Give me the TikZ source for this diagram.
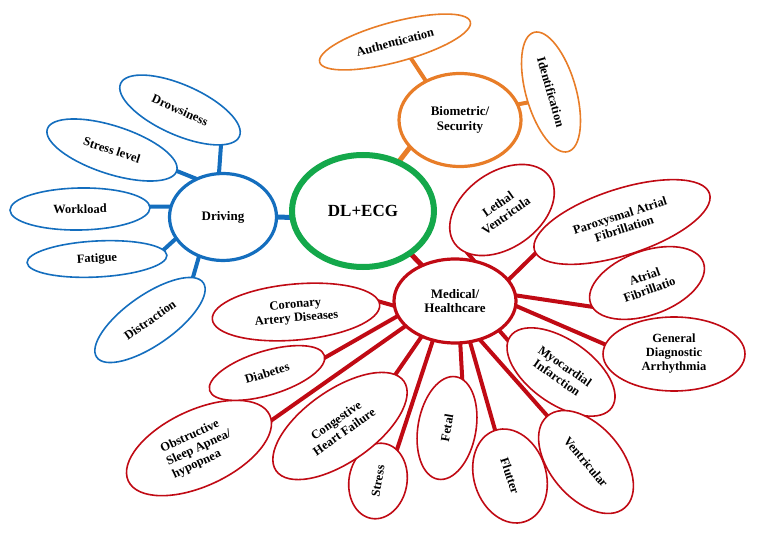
\documentclass[tikz,border=0pt]{standalone}
\usepackage{fontspec}
\setmainfont{Liberation Serif}
\usetikzlibrary{shapes.geometric}
\pgfdeclarelayer{background}
\pgfsetlayers{background,main}
\definecolor{cblue}{RGB}{20,110,190}
\definecolor{corange}{RGB}{232,125,40}
\definecolor{cgreen}{RGB}{20,168,75}
\definecolor{cred}{RGB}{192,10,20}
\begin{document}
\begin{tikzpicture}[x=1pt,y=-1pt,
  leaf/.style={ellipse, draw, fill=white, line width=1.6pt, inner sep=0pt, align=center,
    font=\fontsize{12.5}{14}\selectfont\bfseries},
  hub/.style={ellipse, draw, fill=white, line width=3.2pt, inner sep=0pt, align=center,
    font=\fontsize{13}{14.5}\selectfont\bfseries},
  conn/.style={line width=4pt, shorten <=-3pt, shorten >=-3pt},
  bleaf/.style={leaf, draw=cblue},
  oleaf/.style={leaf, draw=corange},
  rleaf/.style={leaf, draw=cred},
  bconn/.style={conn, draw=cblue},
  oconn/.style={conn, draw=corange, line width=5pt},
  rconn/.style={conn, draw=cred}
]
\useasboundingbox (0,0) rectangle (762,534);

% hubs
\node[hub, draw=cgreen, line width=6pt, minimum width=142pt, minimum height=112pt,
  font=\fontsize{17}{20}\selectfont\bfseries] (dl) at (363,211) {DL+ECG};
\node[hub, draw=cblue, minimum width=107pt, minimum height=87pt] (drv) at (223,217) {Driving};
\node[hub, draw=corange, minimum width=122pt, minimum height=93pt] (bio) at (460,120) {Biometric/\\Security};
\node[hub, draw=cred, minimum width=122pt, minimum height=84pt] (med) at (455,301) {Medical/\\Healthcare};

% driving leaves
\node[bleaf, rotate=-24, minimum width=130pt, minimum height=50pt] (drow) at (180,110) {Drowsiness};
\node[bleaf, rotate=-18, minimum width=136pt, minimum height=48pt] (stl) at (112,150) {Stress level};
\node[bleaf, rotate=1, minimum width=140pt, minimum height=42pt] (work) at (80,209) {Workload};
\node[bleaf, rotate=3, minimum width=140pt, minimum height=36pt] (fat) at (97,259) {Fatigue};
\node[bleaf, rotate=35, minimum width=130pt, minimum height=50pt] (dis) at (150,320) {Distraction};

% biometric leaves
\node[oleaf, rotate=15, minimum width=156pt, minimum height=40pt] (auth) at (395,42) {Authentication};
\node[oleaf, rotate=-74, minimum width=124pt, minimum height=50pt] (ident) at (551,92) {Identification};

% medical leaves
\node[rleaf, rotate=35, minimum width=116pt, minimum height=76pt] (leth) at (502,210) {Lethal\\Ventricula};
\node[rleaf, rotate=18, minimum width=184pt, minimum height=66pt] (parox) at (622,222) {Paroxysmal Atrial\\Fibrillation};
\node[rleaf, rotate=20, minimum width=120pt, minimum height=64pt] (atr) at (647,283) {Atrial\\Fibrillatio};
\node[rleaf, minimum width=142pt, minimum height=74pt] (gen) at (674,354) {General\\Diagnostic\\Arrhythmia};
\node[rleaf, rotate=-35, minimum width=124pt, minimum height=64pt] (myo) at (561,372) {Myocardial\\Infarction};
\node[rleaf, rotate=-50, minimum width=120pt, minimum height=72pt] (vent) at (586,462) {Ventricular};
\node[rleaf, rotate=-72, minimum width=96pt, minimum height=72pt] (flut) at (510,476) {Flutter};
\node[rleaf, rotate=80, minimum width=104pt, minimum height=58pt] (fetal) at (447,428) {Fetal};
\node[rleaf, rotate=80, minimum width=76pt, minimum height=58pt] (stress) at (378,481) {Stress};
\node[rleaf, rotate=35, minimum width=156pt, minimum height=72pt] (cong) at (340,426) {Congestive\\Heart Failure};
\node[rleaf, rotate=25, minimum width=156pt, minimum height=76pt, align=left] (osa) at (199,448) {Obstructive\\Sleep Apnea/\\hypopnea};
\node[rleaf, rotate=17, minimum width=120pt, minimum height=44pt] (dia) at (267,373) {Diabetes};
\node[rleaf, rotate=5, minimum width=168pt, minimum height=56pt] (cor) at (296,312) {Coronary\\Artery Diseases};

\begin{pgfonlayer}{background}
  % driving
  \draw[bconn] (drv.95) -- (drow.-17);
  \draw[bconn] (drv.126) -- (stl.0);
  \draw[bconn] (drv.169) -- (work.1.5);
  \draw[bconn] (drv.205) -- (fat.5);
  \draw[bconn] (drv.239) -- (dis.10);
  \draw[bconn, line width=5pt] (drv.0) -- (dl.185);
  % biometric
  \draw[oconn] (dl.54) -- (bio.209);
  \draw[oconn, line width=4pt] (bio.131) -- (auth.-61);
  \draw[oconn, line width=4pt] (bio.15) -- (ident.-82);
  % medical
  \draw[rconn, line width=5pt] (dl.-42) -- (med.133);
  \draw[rconn] (med.67) -- (leth.-162);
  \draw[rconn] (med.22) -- (parox.-178);
  \draw[rconn] (med.5) -- (atr.-177);
  \draw[rconn] (med.-5) -- (gen.172);
  \draw[rconn] (med.-34) -- (myo.184);
  \draw[rconn] (med.-57) -- (vent.180);
  \draw[rconn] (med.-70) -- (flut.180);
  \draw[rconn] (med.-83.5) -- (fetal.-7);
  \draw[rconn] (med.-119) -- (stress.-21);
  \draw[rconn] (med.-133) -- (cong.8.5);
  \draw[rconn] (med.207) -- (osa.-4);
  \draw[rconn] (med.195) -- (dia.-2.5);
  \draw[rconn] (med.184) -- (cor.2);
\end{pgfonlayer}
\end{tikzpicture}
\end{document}
